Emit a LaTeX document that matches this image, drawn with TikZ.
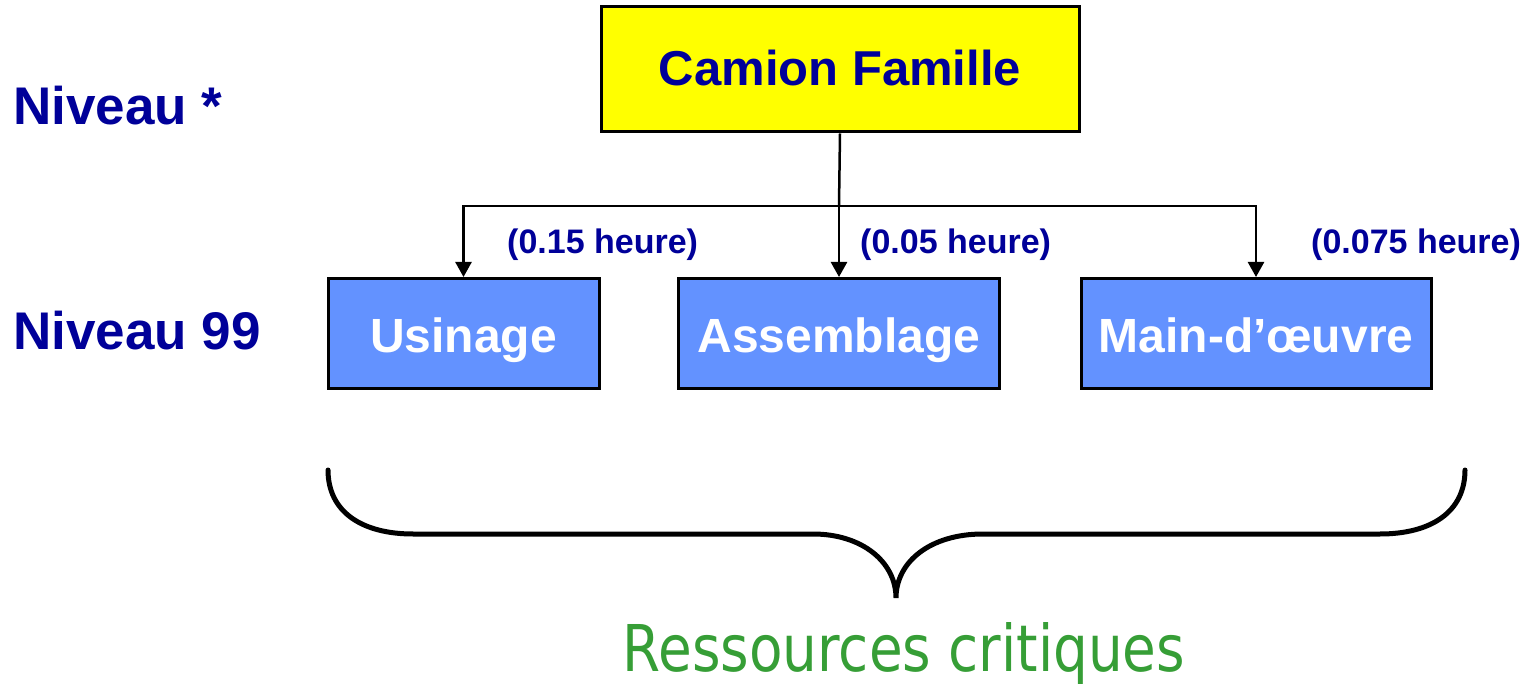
\documentclass[tikz,border=0pt]{standalone}
\usepackage{fontspec}
\usepackage{graphicx}
\setmainfont{Liberation Sans}
\newfontfamily\greenfont{DejaVu Sans}
\usetikzlibrary{arrows.meta}
\definecolor{navy}{RGB}{0,0,153}
\definecolor{boxblue}{RGB}{99,146,255}
\definecolor{resgreen}{RGB}{54,158,54}
\definecolor{topyellow}{RGB}{255,255,0}
\tikzset{
  topbox/.style={draw=black, line width=3pt, fill=topyellow, minimum width=478pt, minimum height=125pt, inner sep=0pt, text height=33pt, text depth=0pt, text=navy, font=\fontsize{49}{55}\selectfont\bfseries},
  resbox/.style={draw=black, line width=3pt, fill=boxblue, minimum height=110pt, inner sep=0pt, text height=39pt, text depth=0pt, text=white, font=\fontsize{48}{54}\selectfont\bfseries},
  levellabel/.style={anchor=base west, inner sep=0pt, text=navy, font=\fontsize{53}{60}\selectfont\bfseries},
  hourlabel/.style={anchor=base west, inner sep=0pt, text=navy, font=\fontsize{34}{40}\selectfont\bfseries},
  conn/.style={draw=black, line width=2.5pt},
  arr/.style={conn, -{Triangle[width=16pt,length=15pt]}},
  bracestyle/.style={draw=black, line width=5pt, line cap=round}
}
\begin{document}
\begin{tikzpicture}[x=1pt,y=-1pt]
\useasboundingbox (0,0) rectangle (1535,684);
% top node
\node[topbox] (cam) at (840,69.5) {Camion Famille};
% level labels
\node[levellabel] (n1) at (13,125) {Niveau *};
\node[levellabel] (n2) at (13,350) {Niveau 99};
% resource boxes
\node[resbox, minimum width=271pt] (usi) at (463.5,333.5) {Usinage};
\node[resbox, minimum width=321pt] (ass) at (839,333.5) {Assemblage};
\node[resbox, minimum width=350pt] (mai) at (1256,333.5) {Main-d’œuvre};
% connectors
\coordinate (j) at (839,206);
\draw[conn] (cam.south) -- (j);
\draw[arr] (j) -| (usi.north);
\draw[arr] (j) -- (ass.north);
\draw[arr] (j) -| (mai.north);
% hour labels
\node[hourlabel] (h1) at (507,254) {(0.15 heure)};
\node[hourlabel] (h2) at (860,254) {(0.05 heure)};
\node[hourlabel] (h3) at (1311,254) {(0.075 heure)};
% brace
\draw[bracestyle] (328,470) .. controls (328,512) and (362,534) .. (413,534)
  -- (813,534) .. controls (862,534) and (896,562) .. (896,598)
  .. controls (896,562) and (930,534) .. (983,534)
  -- (1380,534) .. controls (1431,534) and (1465,512) .. (1465,470);
% bottom text
\node[anchor=base, inner sep=0pt, text=resgreen] (res) at (904,671) {\scalebox{0.85}[1]{\greenfont\fontsize{64.5}{70}\selectfont Ressources critiques}};
\end{tikzpicture}
\end{document}
